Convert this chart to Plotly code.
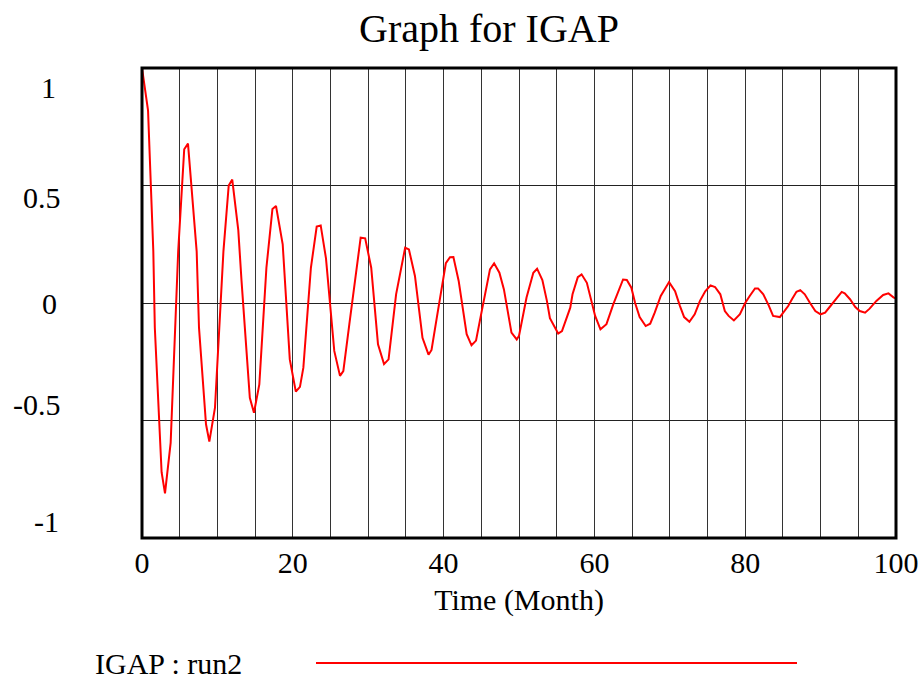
import plotly.graph_objects as go

# ---- data ----
time_month = [0.0, 0.8, 1.5, 1.7, 2.6, 3.05, 3.8, 4.15, 4.8, 5.6, 6.1, 7.25, 7.56, 8.49, 8.93,
              9.68, 10.34, 10.8, 11.5, 11.97, 12.77, 13.2, 14.3, 14.85, 15.56, 16.5, 17.3, 17.77,
              18.66, 18.96, 19.6, 20.4, 20.95, 21.4, 22.4, 23.17, 23.7, 24.4, 24.8, 25.5, 26.26,
              26.7, 27.5, 28.4, 29.0, 29.6, 30.4, 31.3, 32.1, 32.7, 33.3, 33.7, 34.9, 35.4, 36.2,
              37.2, 38.0, 38.4, 39.1, 40.3, 40.85, 41.3, 42.0, 42.4, 43.06, 43.7, 44.3, 44.8, 45.5,
              46.15, 46.7, 47.4, 48.0, 48.7, 49.0, 49.7, 50.0, 51.0, 51.9, 52.4, 53.1, 53.7, 54.1,
              55.2, 55.7, 56.8, 57.1, 57.8, 58.3, 59.0, 59.6, 60.1, 60.8, 61.6, 62.5, 63.0, 63.8,
              64.3, 64.9, 65.4, 66.0, 66.8, 67.4, 68.0, 68.8, 69.9, 70.7, 71.35, 71.9, 72.6, 73.3,
              74.0, 74.7, 75.4, 76.0, 76.7, 77.3, 77.8, 78.5, 79.3, 80.0, 80.6, 81.3, 81.7, 82.4,
              83.1, 83.7, 84.6, 85.7, 86.2, 86.8, 87.3, 87.9, 88.6, 89.3, 90.0, 90.6, 91.2, 91.9,
              92.8, 93.2, 93.9, 94.6, 95.2, 95.9, 96.5, 97.4, 98.3, 99.0, 99.7, 100.0]

igap_run2 = [1.0, 0.82, 0.22, -0.105, -0.72, -0.81, -0.595, -0.29, 0.22, 0.654, 0.678, 0.22, -0.105,
             -0.516, -0.59, -0.445, -0.034, 0.22, 0.50, 0.525, 0.31, 0.094, -0.403, -0.467, -0.346,
             0.15, 0.40, 0.413, 0.25, 0.08, -0.24, -0.377, -0.357, -0.275, 0.15, 0.325, 0.33, 0.19,
             0.037, -0.204, -0.31, -0.29, -0.09, 0.13, 0.278, 0.275, 0.15, -0.176, -0.26, -0.24,
             -0.084, 0.037, 0.235, 0.228, 0.115, -0.148, -0.22, -0.20, -0.062, 0.17, 0.195, 0.196,
             0.094, 0.0, -0.133, -0.18, -0.16, -0.077, 0.037, 0.143, 0.169, 0.129, 0.058, -0.069,
             -0.126, -0.155, -0.14, 0.023, 0.129, 0.146, 0.098, 0.009, -0.065, -0.13, -0.12, -0.02,
             0.037, 0.11, 0.122, 0.086, 0.009, -0.055, -0.112, -0.09, -0.006, 0.037, 0.10, 0.098,
             0.065, 0.0, -0.06, -0.098, -0.088, -0.041, 0.03, 0.089, 0.05, -0.013, -0.06, -0.08,
             -0.048, 0.009, 0.05, 0.075, 0.068, 0.037, -0.034, -0.055, -0.074, -0.048, 0.0, 0.03,
             0.062, 0.062, 0.037, -0.009, -0.055, -0.06, -0.013, 0.016, 0.048, 0.055, 0.037, 0.0,
             -0.034, -0.048, -0.041, -0.017, 0.011, 0.047, 0.041, 0.016, -0.017, -0.034, -0.041,
             -0.024, 0.009, 0.034, 0.041, 0.023, 0.02]

x_tick_values = [0, 20, 40, 60, 80, 100]
x_tick_labels = ["0", "20", "40", "60", "80", "100"]
y_tick_labels = ["1", "0.5", "0", "-0.5", "-1"]
series_name = "IGAP : run2"

# ---- layout / style ----
FONT = "Liberation Serif, Times New Roman, serif"
W, H = 921, 681
L, R, T, B = 142, 25, 68, 143
plot_w = W - L - R
plot_h = H - T - B

fig = go.Figure()
fig.add_trace(go.Scatter(x=time_month, y=igap_run2, mode="lines",
                         line=dict(color="#ff0000", width=2), name=series_name,
                         showlegend=False))

fig.update_layout(
    width=W, height=H, autosize=False,
    margin=dict(l=L, r=R, t=T, b=B, pad=0, autoexpand=False),
    paper_bgcolor="white", plot_bgcolor="white",
    font=dict(family=FONT, color="black", size=30),
    title=dict(text="Graph for IGAP", font=dict(family=FONT, size=40, color="black"),
               x=489 / W, xref="container", xanchor="center",
               y=1 - 28 / H, yref="container", yanchor="middle"),
    xaxis=dict(range=[0, 100], tickvals=x_tick_values, ticktext=x_tick_labels,
               showgrid=True, gridcolor="#333333", gridwidth=1, automargin=False,
               minor=dict(dtick=5, tick0=0, showgrid=True, gridcolor="#333333", gridwidth=1),
               zeroline=False, showline=False, ticks="", ticklabelstandoff=4,
               tickfont=dict(family=FONT, size=30, color="black"),
               title=dict(text="Time (Month)", font=dict(family=FONT, size=30, color="black"),
                          standoff=10)),
    yaxis=dict(range=[-1, 1], tickvals=[-0.5, 0, 0.5], showticklabels=False,
               showgrid=True, gridcolor="#222222", gridwidth=1, automargin=False,
               zeroline=False, showline=False, ticks=""),
)

# y tick labels (Vensim places them slightly inside the extremes)
y_label_pos = [0.915, 0.447, 0.0, -0.43, -0.928]
y_label_cx = [48.5, 42, 49, 36.5, 46]
for txt, yp, cx in zip(y_tick_labels, y_label_pos, y_label_cx):
    fig.add_annotation(text=txt, x=(cx - L) / plot_w, xref="paper", y=yp, yref="y",
                       xanchor="center", yanchor="middle", showarrow=False,
                       font=dict(family=FONT, size=30, color="black"))

# frame
fig.add_shape(type="rect", xref="paper", yref="paper", x0=0, x1=1, y0=0, y1=1,
              line=dict(color="black", width=3), layer="above")

# legend row: text then a red sample line
leg_y = -(663 - T - plot_h) / plot_h
fig.add_annotation(text=series_name, x=(93 - L) / plot_w, xref="paper", y=leg_y, yref="paper",
                   xanchor="left", yanchor="middle", showarrow=False,
                   font=dict(family=FONT, size=30, color="black"))
fig.add_shape(type="line", xref="paper", yref="paper",
              x0=(316 - L) / plot_w, x1=(797 - L) / plot_w, y0=leg_y, y1=leg_y,
              line=dict(color="#ff0000", width=2))

fig.write_html("out.html")
